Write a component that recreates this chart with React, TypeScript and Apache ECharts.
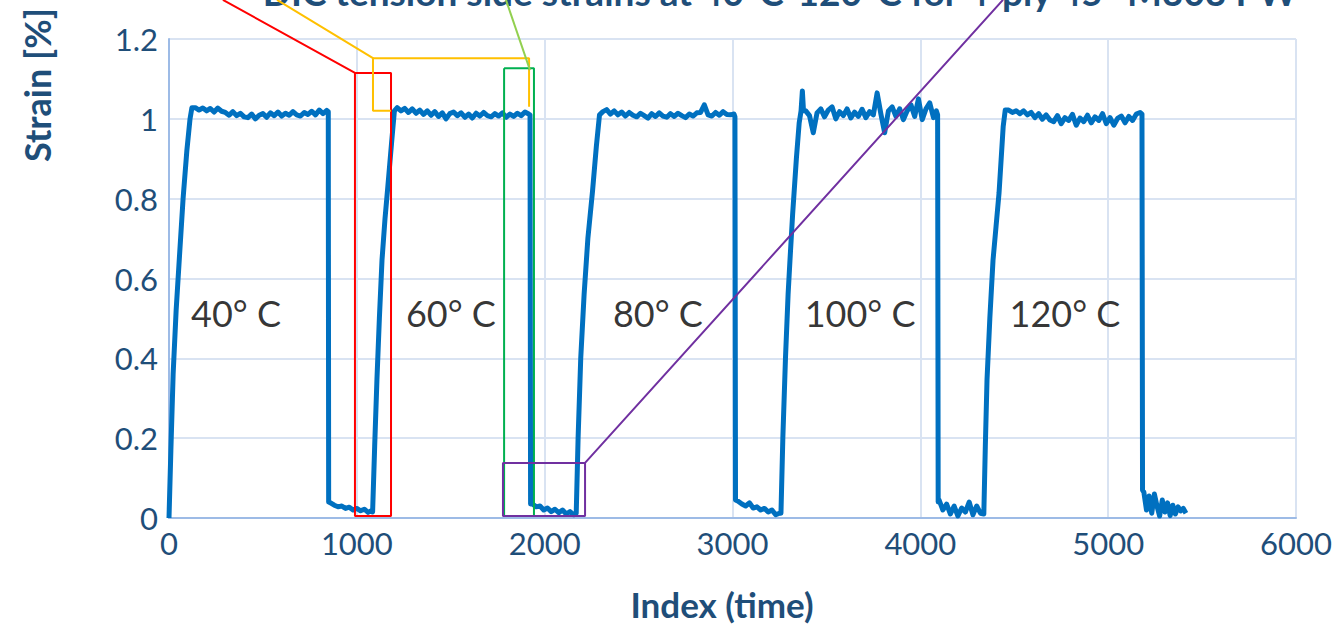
import React, { useEffect, useRef } from "react";
import * as echarts from "echarts";

// ---------- data ----------
const xTickValues = [0, 1000, 2000, 3000, 4000, 5000, 6000];
const yTickValues = [0, 0.2, 0.4, 0.6, 0.8, 1, 1.2];

const titleText = "DIC tension side strains at 40°C-120°C for 4-ply 45° M303 PW";
const xAxisTitle = "Index (time)";
const yAxisTitle = "Strain [%]";

const tempLabels = ["40° C", "60° C", "80° C", "100° C", "120° C"];
const tempLabelIndex = [357, 1501, 2603, 3679, 4770];
const tempLabelStrain = [0.5135, 0.5135, 0.5135, 0.5135, 0.5135];

const sampleStep = 20;

// cycle 1 (40 °C)
const rise40 = [[0, 0], [10, 0.17], [22, 0.36], [38, 0.52], [55, 0.65], [75, 0.8], [95, 0.92], [112, 1.0], [122, 1.028]];
const hold40Start = 140;
const hold40 = [1.028, 1.022, 1.027, 1.02, 1.026, 1.017, 1.027, 1.019, 1.016, 1.009, 1.018, 1.008, 1.014, 1.005, 1.003, 1.012, 1.0, 1.009, 1.013, 1.004, 1.015, 1.008, 1.017, 1.007, 1.014, 1.009, 1.018, 1.01, 1.007, 1.016, 1.011, 1.019, 1.01, 1.022, 1.013, 1.021];
const drop40 = [[848, 1.018], [850, 0.04]];
const rest40Start = 860;
const rest40 = [0.038, 0.032, 0.028, 0.03, 0.024, 0.027, 0.02, 0.024, 0.018, 0.022, 0.014, 0.019];

// cycle 2 (60 °C)
const rise60 = [[1084, 0.015], [1095, 0.18], [1107, 0.346], [1120, 0.5], [1134, 0.646], [1150, 0.75], [1165, 0.83], [1185, 0.94], [1200, 1.02]];
const hold60Start = 1215;
const hold60 = [1.028, 1.02, 1.026, 1.016, 1.025, 1.014, 1.022, 1.011, 1.02, 1.009, 1.018, 1.006, 1.015, 1.0, 1.013, 1.017, 1.008, 1.015, 1.004, 1.012, 1.002, 1.014, 1.007, 1.016, 1.008, 1.005, 1.013, 1.007, 1.015, 1.004, 1.012, 1.006, 1.014, 1.008, 1.017];
const drop60 = [[1915, 1.012], [1922, 1.01], [1925, 0.035]];
const rest60Start = 1935;
const rest60 = [0.035, 0.028, 0.03, 0.02, 0.025, 0.016, 0.022, 0.013, 0.02, 0.01, 0.016, 0.008];

// cycle 3 (80 °C)
const rise80 = [[2168, 0.012], [2178, 0.2], [2192, 0.4], [2210, 0.56], [2230, 0.7], [2255, 0.82], [2275, 0.93], [2292, 1.01]];
const hold80Start = 2310;
const hold80 = [1.018, 1.023, 1.012, 1.02, 1.01, 1.017, 1.007, 1.016, 1.009, 1.005, 1.014, 1.008, 1.002, 1.013, 1.006, 1.015, 1.007, 1.004, 1.013, 1.006, 1.014, 1.008, 1.003, 1.012, 1.007, 1.015, 1.016, 1.035, 1.01, 1.007, 1.016, 1.009, 1.018, 1.011, 1.01];
const drop80 = [[3008, 1.012], [3013, 1.005], [3016, 0.045]];
const rest80Start = 3030;
const rest80 = [0.042, 0.035, 0.03, 0.038, 0.025, 0.028, 0.02, 0.024, 0.015, 0.02, 0.008, 0.012];

// cycle 4 (100 °C)
const rise100 = [[3258, 0.012], [3268, 0.2], [3282, 0.4], [3296, 0.56], [3306, 0.646], [3320, 0.76], [3340, 0.9], [3355, 0.99], [3365, 1.02], [3372, 1.07], [3378, 1.02]];
const hold100Start = 3390;
const hold100 = [1.02, 1.008, 0.965, 1.015, 1.025, 1.005, 1.022, 1.03, 1.0, 1.018, 1.008, 1.025, 1.002, 1.017, 1.006, 1.024, 1.003, 1.018, 1.01, 1.065, 1.012, 0.965, 1.02, 1.03, 1.006, 1.025, 0.998, 1.02, 1.035, 1.006, 1.05, 0.998, 1.025, 1.04, 1.003];
const drop100 = [[4085, 1.02], [4092, 1.01], [4095, 0.04]];
const rest100Start = 4100;
const rest100 = [0.045, 0.02, 0.035, 0.01, 0.03, 0.005, 0.025, 0.015, 0.04, 0.008, 0.03, 0.012];

// cycle 5 (120 °C)
const rise120 = [[4338, 0.01], [4346, 0.18], [4355, 0.346], [4370, 0.5], [4387, 0.646], [4403, 0.73], [4419, 0.814], [4441, 0.98], [4452, 1.022]];
const hold120Start = 4470;
const hold120 = [1.022, 1.016, 1.02, 1.013, 1.02, 1.01, 1.016, 1.003, 1.013, 0.999, 1.01, 0.997, 0.993, 1.008, 0.988, 1.003, 0.996, 1.011, 0.984, 1.002, 0.993, 1.009, 0.99, 1.005, 0.996, 1.013, 0.988, 1.003, 0.984, 1.001, 1.007, 0.99, 1.006, 0.996, 1.012, 1.016];
const drop120 = [[5180, 1.012], [5183, 0.07]];
const rest120Start = 5190;
const rest120Step = 14;
const rest120 = [0.065, 0.02, 0.055, 0.012, 0.06, 0.03, 0.005, 0.045, 0.015, 0.038, 0.006, 0.032, 0.01, 0.028, 0.018, 0.024, 0.012];

// call-out shapes (index, strain)
const redCallout = [[287, 1.298], [990, 1.115], [990, 0.005], [1182, 0.005], [1182, 1.115], [990, 1.115]];
const yellowLeader = [[575, 1.298], [1086, 1.152], [1086, 1.02], [1182, 1.02]];
const yellowBracket = [[1086, 1.152], [1917, 1.152], [1917, 1.03]];
const greenCallout = [[1784, 1.127], [1943, 1.127], [1943, 0.005], [1784, 0.005], [1784, 1.127]];
const lightGreenLeader = [[1794, 1.298], [1922, 1.122]];
const purpleCallout = [[4440, 1.298], [2215, 0.138], [1778, 0.138], [1778, 0.005], [2215, 0.005], [2215, 0.138]];

// ---------- build ----------
function sampled(start: number, step: number, values: number[]) {
  return values.map((v, i) => [start + i * step, v]);
}

const strainSeries: number[][] = [
  ...rise40, ...sampled(hold40Start, sampleStep, hold40), ...drop40, ...sampled(rest40Start, sampleStep, rest40),
  ...rise60, ...sampled(hold60Start, sampleStep, hold60), ...drop60, ...sampled(rest60Start, sampleStep, rest60),
  ...rise80, ...sampled(hold80Start, sampleStep, hold80), ...drop80, ...sampled(rest80Start, sampleStep, rest80),
  ...rise100, ...sampled(hold100Start, sampleStep, hold100), ...drop100, ...sampled(rest100Start, sampleStep, rest100),
  ...rise120, ...sampled(hold120Start, sampleStep, hold120), ...drop120, ...sampled(rest120Start, rest120Step, rest120),
];

const FONT = "Lato, 'Open Sans', sans-serif";
const DARK_BLUE = "#1f4e79";

function calloutSeries(data: number[][], color: string, width: number) {
  return {
    type: "line",
    data,
    showSymbol: false,
    symbol: "none",
    clip: false,
    silent: true,
    z: 5,
    lineStyle: { color, width },
  };
}

export default function App() {
  const ref = useRef<HTMLDivElement>(null);

  useEffect(() => {
    if (!ref.current) return;
    const chart = echarts.init(ref.current, undefined, { renderer: "svg" });
    chart.setOption({
      animation: false,
      backgroundColor: "#ffffff",
      grid: { left: 169, right: 46, top: 39, bottom: 108, containLabel: false },
      xAxis: {
        type: "value",
        min: xTickValues[0],
        max: xTickValues[xTickValues.length - 1],
        interval: 1000,
        axisLine: { show: true, lineStyle: { color: "#9dbbe6", width: 2 } },
        axisTick: { show: false },
        splitLine: { show: true, lineStyle: { color: "#d9e3f2", width: 2 } },
        axisLabel: {
          color: DARK_BLUE,
          fontSize: 31,
          fontFamily: FONT,
          margin: 9,
          formatter: (v: number) => String(Math.round(v)),
        },
      },
      yAxis: {
        type: "value",
        min: yTickValues[0],
        max: yTickValues[yTickValues.length - 1],
        interval: 0.2,
        axisLine: { show: true, lineStyle: { color: "#9dbbe6", width: 2 } },
        axisTick: { show: false },
        splitLine: { show: true, lineStyle: { color: "#d9e3f2", width: 2 } },
        axisLabel: {
          color: DARK_BLUE,
          fontSize: 31,
          fontFamily: FONT,
          margin: 11,
          formatter: (v: number) => (Math.round(v * 10) / 10).toString(),
        },
      },
      series: [
        {
          type: "line",
          data: strainSeries,
          showSymbol: false,
          symbol: "none",
          z: 3,
          lineStyle: { color: "#0070c0", width: 5, join: "round" },
        },
        calloutSeries(redCallout, "#ff0000", 2),
        calloutSeries(yellowLeader, "#ffc000", 2),
        calloutSeries(yellowBracket, "#ffc000", 2),
        calloutSeries(greenCallout, "#00b050", 2),
        calloutSeries(lightGreenLeader, "#92d050", 2),
        calloutSeries(purpleCallout, "#7030a0", 2),
        {
          type: "scatter",
          symbolSize: 0,
          silent: true,
          z: 6,
          data: tempLabels.map((name, i) => ({ name, value: [tempLabelIndex[i], tempLabelStrain[i]] })),
          label: {
            show: true,
            position: "inside",
            formatter: "{b}",
            color: "#000000",
            fontSize: 36,
            fontFamily: FONT,
          },
        },
      ],
      graphic: [
        {
          type: "text",
          x: 780,
          y: -9,
          style: {
            text: titleText,
            fill: DARK_BLUE,
            font: `bold 37px ${FONT}`,
            textAlign: "center",
            textVerticalAlign: "middle",
          },
        },
        {
          type: "text",
          x: 37,
          y: 85,
          rotation: Math.PI / 2,
          style: {
            text: yAxisTitle,
            fill: DARK_BLUE,
            font: `bold 36px ${FONT}`,
            textAlign: "center",
            textVerticalAlign: "middle",
          },
        },
        {
          type: "text",
          x: 722,
          y: 604,
          style: {
            text: xAxisTitle,
            fill: DARK_BLUE,
            font: `bold 35px ${FONT}`,
            textAlign: "center",
            textVerticalAlign: "middle",
          },
        },
      ],
    });
    return () => chart.dispose();
  }, []);

  return (
    <div
      ref={ref}
      style={{ position: "fixed", left: 0, top: 0, width: 1342, height: 626, background: "#fff" }}
    />
  );
}
